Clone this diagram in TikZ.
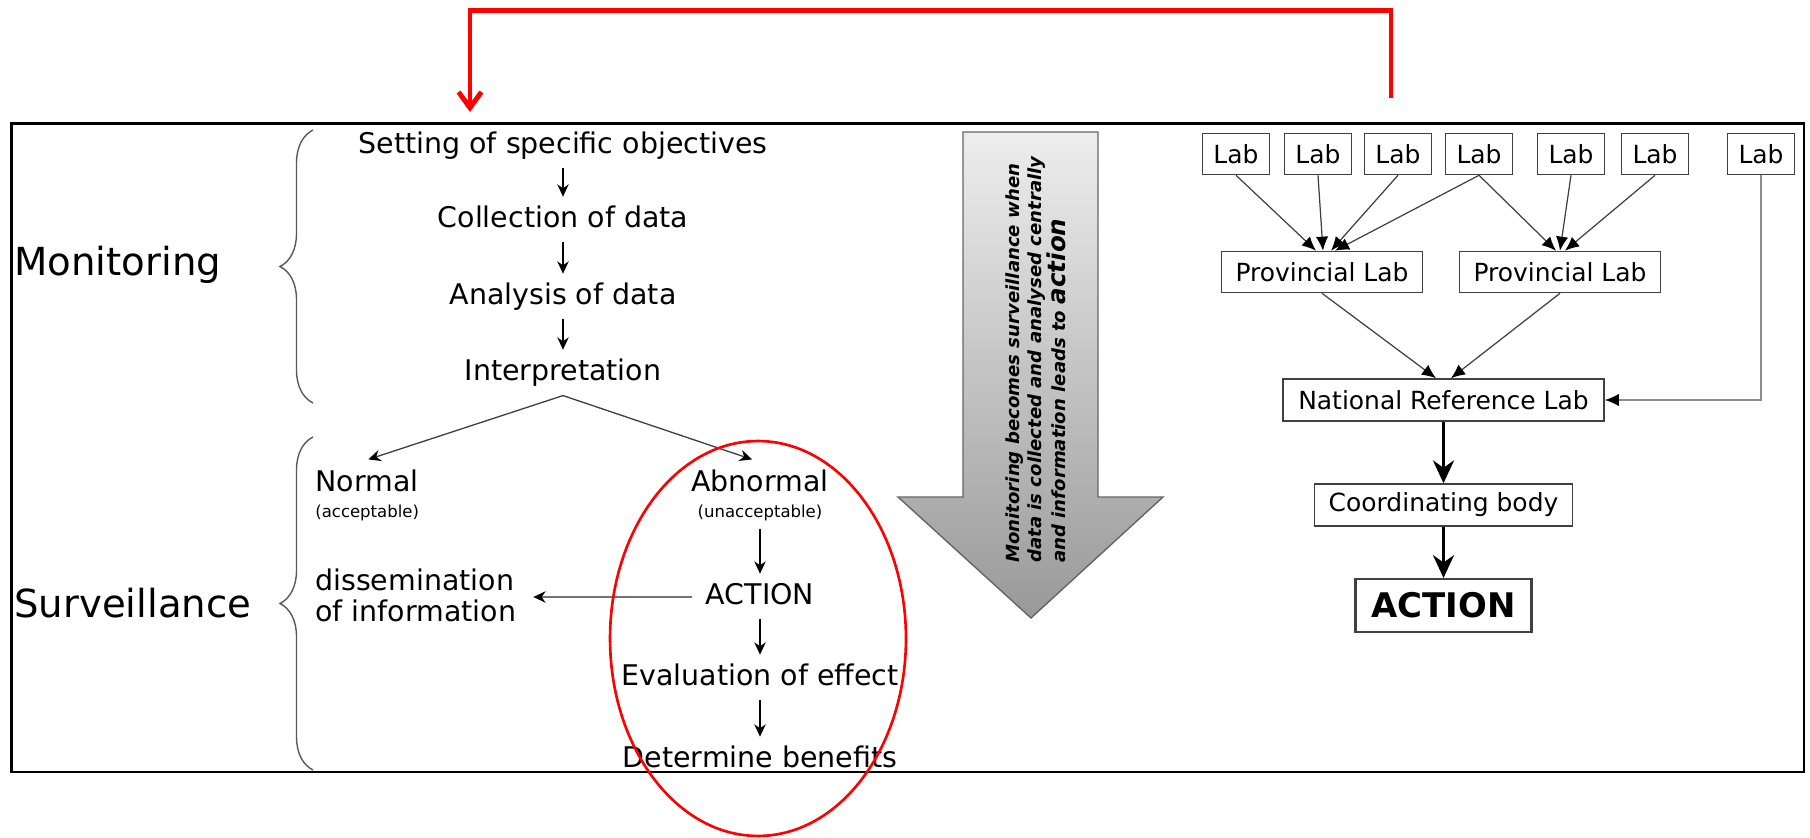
\documentclass[tikz,border=0pt]{standalone}
\usepackage{fontspec}
\setmainfont{DejaVu Sans}
\usetikzlibrary{arrows.meta,calc,decorations.pathreplacing}
\begin{document}
\begin{tikzpicture}[x=0.02cm,y=-0.02cm,
  flowtext/.style={inner sep=0pt, text height=12.2pt, text depth=4pt, font=\fontsize{16.2pt}{19pt}\selectfont},
  smalltext/.style={inner sep=0pt, text height=7pt, text depth=2.4pt, font=\fontsize{9.4pt}{11pt}\selectfont},
  bigtext/.style={inner sep=0pt, font=\fontsize{22pt}{26pt}\selectfont},
  flowarrow/.style={draw=black, line width=0.7pt, -{Stealth[length=7pt,width=6.5pt]}, shorten <=4pt, shorten >=5pt},
  brancharrow/.style={draw=black!75, line width=0.75pt, -{Stealth[length=7pt,width=6.5pt,color=black]}},
  sidearrow/.style={draw=black!55, line width=0.9pt, -{Stealth[length=7pt,width=6.5pt,color=black]}},
  labbox/.style={draw=black!75, line width=0.9pt, inner sep=0pt, font=\fontsize{14.2pt}{17pt}\selectfont, minimum height=0.82cm},
  labarrow/.style={draw=black!75, line width=0.7pt, -{Latex[length=8pt,width=7pt,color=black]}},
  lab7arrow/.style={draw=black!45, line width=0.9pt, -{Latex[length=8pt,width=7pt,color=black]}},
  thickarrow/.style={draw=black, line width=1.7pt, -{Stealth[length=13pt,width=12pt]}},
  redline/.style={draw=red, line width=2.8pt},
  bracestyle/.style={draw=black!65, line width=0.8pt, decorate, decoration={brace, amplitude=0.66cm}}
]
\useasboundingbox (0,0) rectangle (1810,838);

% outer frame
\draw[black, line width=1.4pt] (11.5,123.5) rectangle (1804,772);

% big gray arrow
\path[draw=black!60, line width=0.8pt, top color=white!93!black, bottom color=white!60!black]
  (963,132) -- (1098,132) -- (1098,497) -- (1163,497) -- (1031,618) -- (898,497) -- (963,497) -- cycle;
\node[rotate=90, anchor=west, align=left, inner sep=0pt,
      font=\fontsize{10.3pt}{12.5pt}\selectfont\bfseries\itshape] (gtxt) at (1036,563)
  {Monitoring becomes surveillance when\\data is collected and analysed centrally\\and information leads to {\fontsize{14pt}{12.5pt}\selectfont action}};

% left labels and braces
\node[bigtext, anchor=west] (mon) at (14,265) {Monitoring};
\node[bigtext, anchor=west] (sur) at (14,603) {Surveillance};
\draw[bracestyle] (313,403) -- (313,130);
\draw[bracestyle] (313,770) -- (313,437);

% monitoring flow
\node[flowtext] (set) at (563,146) {Setting of specific objectives};
\node[flowtext] (col) at (563,220) {Collection of data};
\node[flowtext] (ana) at (563,297) {Analysis of data};
\node[flowtext] (int) at (563,373) {Interpretation};
\draw[flowarrow] (set) -- (col);
\draw[flowarrow] (col) -- (ana);
\draw[flowarrow] (ana) -- (int);

% surveillance flow
\node[flowtext, anchor=west] (nor) at (315,484) {Normal};
\node[smalltext, anchor=west] (acc) at (315,513) {(acceptable)};
\node[flowtext] (abn) at (760,484) {Abnormal};
\node[smalltext] (unacc) at (760,513) {(unacceptable)};
\node[flowtext] (act) at (760,597) {ACTION};
\node[anchor=west, align=left, inner sep=0pt, font=\fontsize{16.2pt}{17.6pt}\selectfont] (dis) at (315,595) {dissemination\\of information};
\node[flowtext] (eva) at (760,678) {Evaluation of effect};
\node[flowtext] (det) at (760,760) {Determine benefits};

\draw[brancharrow] ($(int.south)+(0,8)$) -- ($(nor.north)+(1.5,-10)$);
\draw[brancharrow] ($(int.south)+(0,8)$) -- ($(abn.north)+(-8,-10)$);
\draw[flowarrow] (unacc) -- (act);
\draw[flowarrow] (act) -- (eva);
\draw[flowarrow] (eva) -- (det);
\draw[sidearrow, shorten <=7.4pt, shorten >=9.6pt] (act.west) -- (act.west -| dis.east);

% right side: lab network
\node[labbox, minimum width=1.34cm] (l1) at (1236,154) {Lab};
\node[labbox, minimum width=1.34cm] (l2) at (1318,154) {Lab};
\node[labbox, minimum width=1.34cm] (l3) at (1398,154) {Lab};
\node[labbox, minimum width=1.34cm] (l4) at (1479,154) {Lab};
\node[labbox, minimum width=1.34cm] (l5) at (1571,154) {Lab};
\node[labbox, minimum width=1.34cm] (l6) at (1655,154) {Lab};
\node[labbox, minimum width=1.34cm] (l7) at (1761,154) {Lab};
\node[labbox, minimum width=4.02cm] (p1) at (1322,272) {Provincial Lab};
\node[labbox, minimum width=4.02cm] (p2) at (1560,272) {Provincial Lab};
\node[labbox, minimum width=6.42cm, minimum height=0.84cm] (nrl) at (1443.5,400) {National Reference Lab};
\node[labbox, minimum width=5.16cm, minimum height=0.84cm] (cob) at (1443.5,505) {Coordinating body};
\node[labbox, line width=1.2pt, minimum width=3.52cm, minimum height=1.06cm,
      font=\fontsize{19.3pt}{22pt}\selectfont\bfseries] (act2) at (1443.5,605.5) {ACTION};

\draw[labarrow] (l1.south) -- ([xshift=-0.12cm]p1.north);
\draw[labarrow] (l2.south) -- ([xshift=0.02cm]p1.north);
\draw[labarrow] (l3.south) -- ([xshift=0.18cm]p1.north);
\draw[labarrow] (l4.south) -- ([xshift=0.26cm]p1.north);
\draw[labarrow] (l4.south) -- ([xshift=-0.08cm]p2.north);
\draw[labarrow] (l5.south) -- (p2.north);
\draw[labarrow] (l6.south) -- ([xshift=0.1cm]p2.north);
\draw[labarrow] (p1.south) -- ([xshift=-0.15cm]nrl.north);
\draw[labarrow] (p2.south) -- ([xshift=0.15cm]nrl.north);
\draw[lab7arrow] (l7.south) |- (nrl.east);
\draw[thickarrow] (nrl) -- (cob);
\draw[thickarrow] (cob) -- (act2);

% red annotations
\coordinate (rs) at (1391,98);
\coordinate (rtop) at (1391,10.5);
\coordinate (ltop) at (470,10.5);
\coordinate (re) at (470,112);
\draw[redline, -{Straight Barb[length=9pt,width=13pt]}] (rs) -- (rtop) -- (ltop) -- (re);
\draw[red, line width=1.5pt] (758,638.5) ellipse [x radius=2.96cm, y radius=3.95cm];
\end{tikzpicture}
\end{document}
